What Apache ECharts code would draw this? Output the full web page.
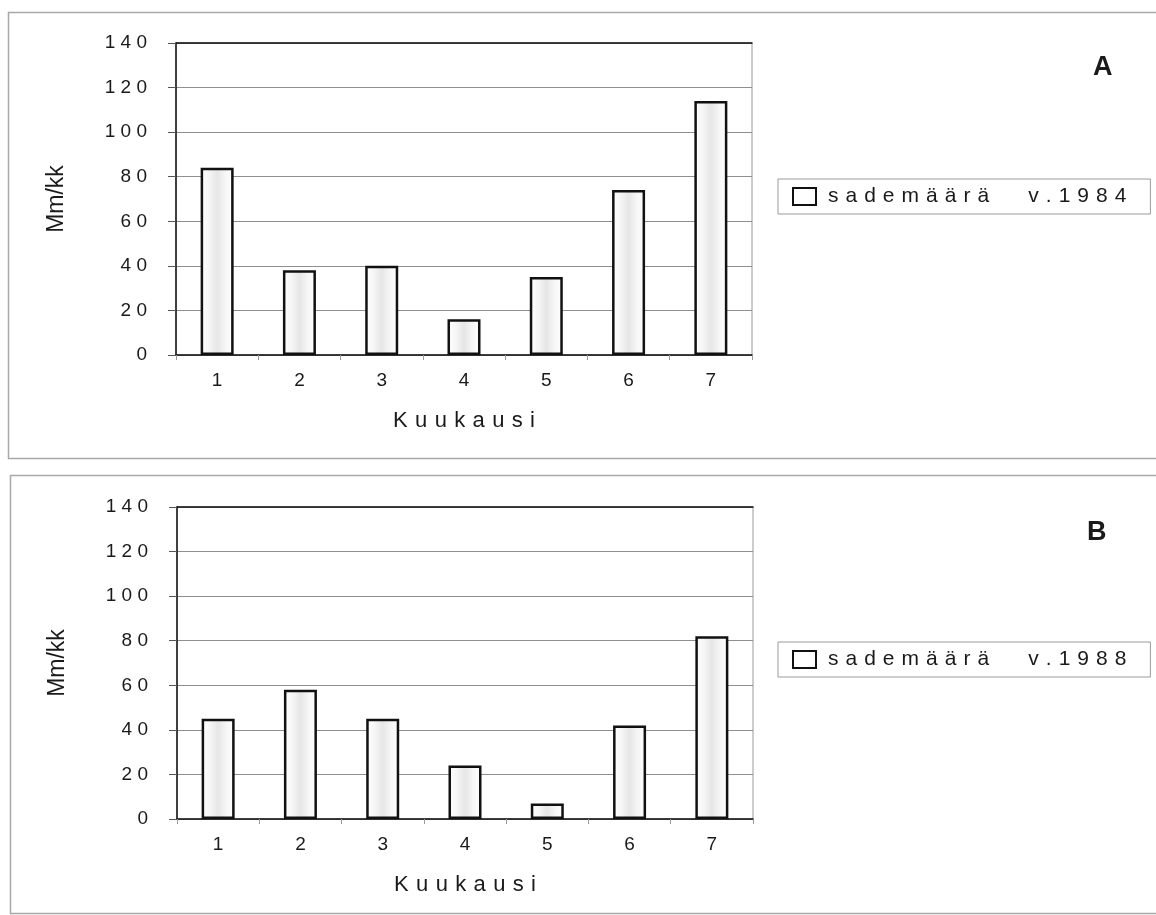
<!DOCTYPE html>
<html>
<head>
<meta charset="utf-8">
<script src="https://cdn.jsdelivr.net/npm/echarts@6/dist/echarts.min.js"></script>
<style>
html,body{margin:0;padding:0;background:#fff;}
#chart{width:1156px;height:915px;}
</style>
</head>
<body>
<div id="chart"></div>
<script>
const categories = ['1', '2', '3', '4', '5', '6', '7'];
const rain1984 = [84, 38, 40, 16, 35, 74, 114];
const rain1988 = [45, 58, 45, 24, 7, 42, 82];
const yTicks = [0, 20, 40, 60, 80, 100, 120, 140];
const seriesNames = ['sademäärä v.1984', 'sademäärä v.1988'];
const panelLabels = ['A', 'B'];
const xName = 'Kuukausi';
const yName = 'Mm/kk';

const FONT = "'Liberation Sans', Arial, sans-serif";
const INK = '#1a1a1a';

function spaced(s, sep) { return String(s).split('').join(sep); }
function spacedWords(s) {
  return s.split(' ').map(w => spaced(w, '\u2004')).join('\u2004\u2003\u2004\u2009');
}

const barFill = {
  type: 'linear', x: 0, y: 0, x2: 1, y2: 0,
  colorStops: [
    { offset: 0, color: '#ffffff' },
    { offset: 0.25, color: '#f6f6f6' },
    { offset: 0.5, color: '#e6e6e6' },
    { offset: 0.75, color: '#f6f6f6' },
    { offset: 1, color: '#ffffff' }
  ]
};

const grids = [
  { left: 176, top: 43, width: 576, height: 312 },
  { left: 177, top: 507, width: 576, height: 312 }
];

function makeX(gi) {
  return [
    {
      gridIndex: gi, type: 'category', data: categories, position: 'bottom',
      axisLine: { show: true, lineStyle: { color: '#111', width: 1.5 } },
      axisTick: { show: true, length: 5, lineStyle: { color: '#999' } },
      axisLabel: { fontSize: 19, color: INK, margin: 16, fontFamily: FONT },
      splitLine: { show: false },
      name: spaced(xName, '\u2004'), nameLocation: 'middle', nameGap: 55,
      nameTextStyle: { fontSize: 22, color: INK, fontFamily: FONT }
    },
    {
      gridIndex: gi, type: 'category', data: categories, position: 'top',
      axisLine: { show: true, lineStyle: { color: '#111', width: 1.5 } },
      axisTick: { show: false }, axisLabel: { show: false }, splitLine: { show: false }
    }
  ];
}

function makeY(gi) {
  return {
    gridIndex: gi, type: 'value',
    min: yTicks[0], max: yTicks[yTicks.length - 1], interval: yTicks[1] - yTicks[0],
    axisLine: { show: true, lineStyle: { color: '#111', width: 1.5 } },
    axisTick: { show: true, length: 8, lineStyle: { color: '#555' } },
    splitLine: { show: true, lineStyle: { color: '#8f8f8f', width: 1 } },
    axisLabel: { fontSize: 19, color: INK, margin: 29, fontFamily: FONT,
      formatter: v => spaced(v, ' ') },
    name: yName, nameLocation: 'middle', nameGap: 108,
    nameTextStyle: { fontSize: 23, color: INK, fontFamily: FONT }
  };
}

const legendTops = [179, 642];
const titleTops = [54, 519];
const titleLefts = [1093, 1087];

const option = {
  animation: false,
  backgroundColor: '#ffffff',
  textStyle: { fontFamily: FONT },
  grid: grids.map(g => Object.assign({ show: true, borderColor: '#9a9a9a', borderWidth: 1, backgroundColor: 'transparent' }, g)),
  xAxis: makeX(0).concat(makeX(1)),
  yAxis: [makeY(0), makeY(1)],
  title: panelLabels.map((t, i) => ({
    text: t, left: titleLefts[i], top: titleTops[i], padding: 0,
    textStyle: { fontSize: 27, fontWeight: 'bold', color: INK, fontFamily: FONT }
  })),
  legend: seriesNames.map((n, i) => ({
    data: [n], left: 778, top: legendTops[i], orient: 'horizontal',
    icon: 'rect', itemWidth: 23, itemHeight: 17,
    itemStyle: { color: '#ffffff', borderColor: '#111', borderWidth: 2 },
    backgroundColor: '#ffffff', borderColor: '#9a9a9a', borderWidth: 1, borderRadius: 0,
    padding: [7, 24, 7, 14],
    formatter: name => spacedWords(name),
    textStyle: { fontSize: 21, color: INK, fontFamily: FONT, padding: [0, 0, 0, 7] },
    selectedMode: false
  })),
  graphic: [
    { type: 'rect', shape: { x: 8.5, y: 12.5, width: 1160, height: 446 }, style: { fill: 'none', stroke: '#a8a8a8', lineWidth: 1.5 }, silent: true, z: -10 },
    { type: 'rect', shape: { x: 10.5, y: 475.5, width: 1160, height: 438 }, style: { fill: 'none', stroke: '#a8a8a8', lineWidth: 1.5 }, silent: true, z: -10 }
  ],
  series: [
    { name: seriesNames[0], type: 'bar', xAxisIndex: 0, yAxisIndex: 0, data: rain1984, barWidth: 33,
      itemStyle: { color: barFill, borderColor: '#111', borderWidth: 2.5 } },
    { name: seriesNames[1], type: 'bar', xAxisIndex: 2, yAxisIndex: 1, data: rain1988, barWidth: 33,
      itemStyle: { color: barFill, borderColor: '#111', borderWidth: 2.5 } }
  ]
};

const chart = echarts.init(document.getElementById('chart'), null, { renderer: 'canvas' });
chart.setOption(option);
</script>
</body>
</html>
